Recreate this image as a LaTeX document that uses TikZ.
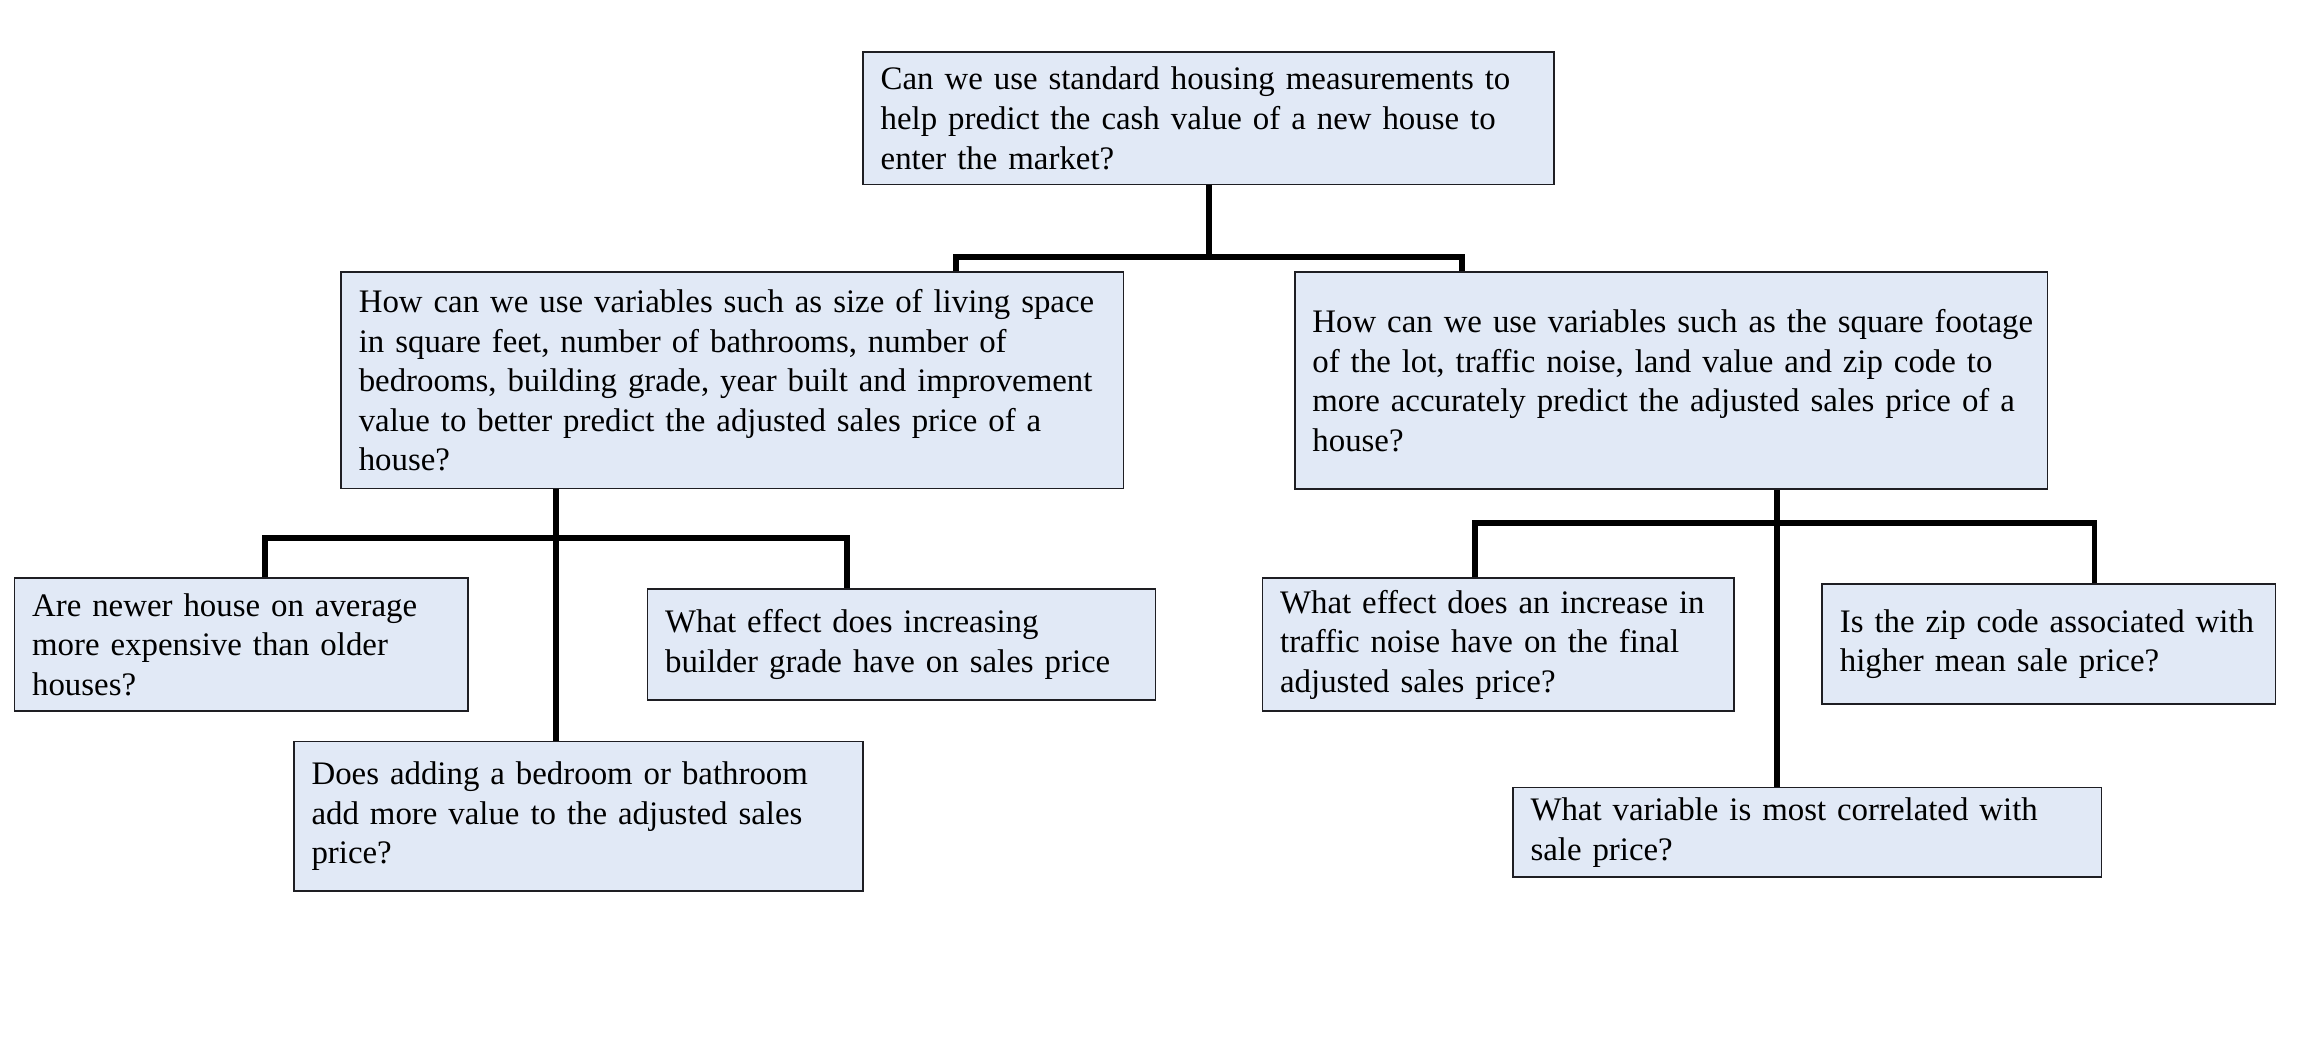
\documentclass[tikz,border=0pt]{standalone}
\usepackage{fontspec}
\setmainfont{Liberation Serif}
\definecolor{boxfill}{RGB}{225,233,246}
\definecolor{boxline}{RGB}{30,30,35}
\begin{document}
\begin{tikzpicture}[x=0.5pt,y=-0.5pt,
  qbox/.style={draw=boxline, line width=0.6pt, fill=boxfill, align=left,
    inner xsep=6pt, inner ysep=1pt, anchor=center,
    font=\fontsize{11.2pt}{13.5pt}\selectfont},
  conn/.style={draw=black, line width=2pt, line join=miter}]
\useasboundingbox[fill=white] (0,0) rectangle (1568,714);

\node[qbox, text width=223.55pt, minimum height=45.1pt] (top) at (823.95,80.6)
  {\mbox{Can we use standard housing measurements to}\\\mbox{help predict the cash value of a new house to}\\\mbox{enter the market?}};
\node[qbox, text width=254.65pt, minimum height=73.75pt] (lm) at (499.25,259.25)
  {\mbox{How can we use variables such as size of living space}\\\mbox{in square feet, number of bathrooms, number of}\\\mbox{bedrooms, building grade, year built and improvement}\\\mbox{value to better predict the adjusted sales price of a}\\\mbox{house?}};
\node[qbox, text width=244.55pt, minimum height=74pt] (rm) at (1139.25,259.5)
  {\mbox{How can we use variables such as the square footage}\\\mbox{of the lot, traffic noise, land value and zip code to}\\\mbox{more accurately predict the adjusted sales price of a}\\\mbox{house?}};
\node[qbox, text width=142.55pt, minimum height=45.45pt] (l1) at (164.45,439.45)
  {\mbox{Are newer house on average}\\\mbox{more expensive than older}\\\mbox{houses?}};
\node[qbox, text width=161.2pt, minimum height=37.8pt] (l2) at (614.6,439.2)
  {\mbox{What effect does increasing}\\\mbox{builder grade have on sales price}};
\node[qbox, text width=182.05pt, minimum height=51pt] (l3) at (394.45,556.55)
  {\mbox{Does adding a bedroom or bathroom}\\\mbox{add more value to the adjusted sales}\\\mbox{price?}};
\node[qbox, text width=148.65pt, minimum height=45.45pt] (r1) at (1021.35,439.45)
  {\mbox{What effect does an increase in}\\\mbox{traffic noise have on the final}\\\mbox{adjusted sales price?}};
\node[qbox, text width=142.5pt, minimum height=41pt] (r2) at (1396.8,439)
  {\mbox{Is the zip code associated with}\\\mbox{higher mean sale price?}};
\node[qbox, text width=188.6pt, minimum height=30.55pt] (r3) at (1232,567.45)
  {\mbox{What variable is most correlated with}\\\mbox{sale price?}};

% top level connectors
\coordinate (tj) at (824.5,175);
\coordinate (ta) at (651.5,175);
\coordinate (tb) at (996.8,175);
\draw[conn] (top.south -| tj) -- (tj);
\draw[conn] (lm.north -| ta) -- (ta) -- (tb) -- (rm.north -| tb);

% left subtree
\coordinate (lj) at (379,366.5);
\coordinate (la) at (180.5,366.5);
\coordinate (lb) at (577.5,366.5);
\draw[conn] (lm.south -| lj) -- (l3.north -| lj);
\draw[conn] (l1.north -| la) -- (la) -- (lb) -- (l2.north -| lb);

% right subtree
\coordinate (rj) at (1211.2,356.5);
\coordinate (ra) at (1005.6,356.5);
\coordinate (rb) at (1427.9,356.5);
\draw[conn] (rm.south -| rj) -- (r3.north -| rj);
\draw[conn] (r1.north -| ra) -- (ra) -- (rb) -- (r2.north -| rb);
\end{tikzpicture}
\end{document}
